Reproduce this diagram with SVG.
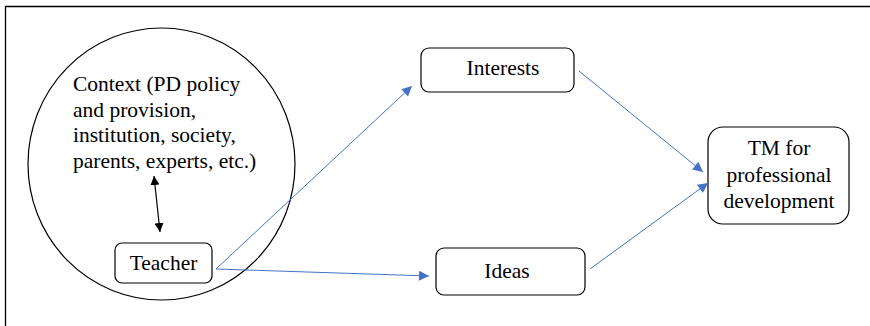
<svg xmlns="http://www.w3.org/2000/svg" width="870" height="326" viewBox="0 0 870 326">
<style>
text{font-family:'Liberation Serif','Times New Roman','DejaVu Serif',serif;font-size:21.5px;fill:#000}
.box{fill:#fff;stroke:#000;stroke-width:1.2}
.blue{stroke:#4472C4;stroke-width:1;fill:none}
</style>
<defs>
<marker id="ab" viewBox="0 0 10 10" refX="10" refY="5" markerWidth="12" markerHeight="10" markerUnits="userSpaceOnUse" orient="auto">
<path d="M0,0 L10,5 L0,10 z" fill="#4472C4"/>
</marker>
<marker id="ak" viewBox="0 0 10 10" refX="10" refY="5" markerWidth="9" markerHeight="9" markerUnits="userSpaceOnUse" orient="auto-start-reverse">
<path d="M0,0 L10,5 L0,10 z" fill="#000"/>
</marker>
</defs>
<rect width="870" height="326" fill="#fff"/>
<path d="M5.5,340 V6.5 H880" fill="none" stroke="#000" stroke-width="1.3"/>
<g id="context">
<ellipse cx="161.5" cy="164" rx="133.5" ry="136" fill="none" stroke="#000" stroke-width="1.2"/>
<text x="73" y="91">Context (PD policy</text>
<text x="73" y="116.5">and provision,</text>
<text x="73" y="142">institution, society,</text>
<text x="73" y="167.5">parents, experts, etc.)</text>
</g>
<g id="teacher">
<rect class="box" x="115" y="243" width="97" height="40" rx="7"/>
<text x="163.5" y="270" text-anchor="middle">Teacher</text>
</g>
<g id="interests">
<rect class="box" x="421" y="48" width="153" height="44" rx="8"/>
<text x="503" y="75" text-anchor="middle">Interests</text>
</g>
<g id="ideas">
<rect class="box" x="436" y="248" width="149" height="47" rx="8"/>
<text x="507" y="278" text-anchor="middle">Ideas</text>
</g>
<g id="tm">
<rect class="box" x="708" y="127" width="141" height="97" rx="15"/>
<text x="779" y="155" text-anchor="middle">TM for</text>
<text x="779" y="181.5" text-anchor="middle">professional</text>
<text x="779" y="208" text-anchor="middle">development</text>
</g>
<g id="connectors">
<line x1="154" y1="176" x2="160" y2="232" stroke="#000" stroke-width="1.2" marker-start="url(#ak)" marker-end="url(#ak)"/>
<line class="blue" x1="216" y1="269" x2="412" y2="86" marker-end="url(#ab)"/>
<line class="blue" x1="216" y1="269" x2="429" y2="276" marker-end="url(#ab)"/>
<line class="blue" x1="579" y1="71" x2="703" y2="172" marker-end="url(#ab)"/>
<line class="blue" x1="590" y1="269" x2="708" y2="183" marker-end="url(#ab)"/>
</g>
</svg>
